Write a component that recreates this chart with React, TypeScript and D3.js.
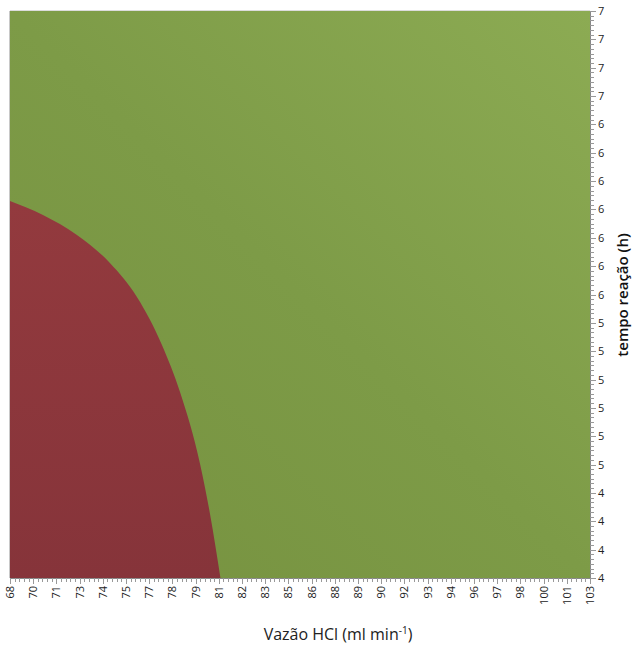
import React from "react";
import * as d3 from "d3";

// Axis tick labels (category axes, as displayed)
const xTickLabels = ["68", "70", "71", "73", "74", "75", "77", "78", "79", "81", "82", "83", "85", "86", "88", "89", "90", "92", "93", "94", "96", "97", "98", "100", "101", "103"];
const yTickLabels = ["4", "4", "4", "4", "5", "5", "5", "5", "5", "5", "6", "6", "6", "6", "6", "6", "6", "7", "7", "7", "7"];

// Data domain of the surface
const flowDomain = [68, 103];
const timeDomain = [4, 7];

// Contour separating the lower band (red) from the upper band (green)
const boundaryFlow = [68.0, 69.99, 72.04, 74.03, 75.66, 77.17, 78.26, 79.47, 80.07, 80.7];
const boundaryTime = [5.995, 5.921, 5.815, 5.667, 5.487, 5.233, 4.984, 4.603, 4.339, 4.0];

const W = 633;
const H = 646;
const left = 10;
const right = 590;
const top = 11;
const bottom = 578;

const xMinorPerMajor = 5;
const yMinorPerMajor = 6;

export default function App() {
  const x = d3.scaleLinear().domain(flowDomain).range([left, right]);
  const y = d3.scaleLinear().domain(timeDomain).range([bottom, top]);
  const xIdx = d3.scaleLinear().domain([0, xTickLabels.length - 1]).range([left, right]);
  const yIdx = d3.scaleLinear().domain([0, yTickLabels.length - 1]).range([bottom, top]);

  // red region: along the contour, then back along the bottom to the left edge
  const contour: [number, number][] = boundaryFlow.map((f, i) => [x(f), y(boundaryTime[i])]);
  const curve = d3.line().curve(d3.curveMonotoneX)(contour) as string;
  const redPath = `${curve}L${x(flowDomain[0])},${y(timeDomain[0])}Z`;

  const xMinor = d3.range(0, (xTickLabels.length - 1) * xMinorPerMajor + 1).map((i) => i / xMinorPerMajor);
  const yMinor = d3.range(0, (yTickLabels.length - 1) * yMinorPerMajor + 1).map((i) => i / yMinorPerMajor);

  const tickFont = "'Open Sans', 'Noto Sans', sans-serif";

  return (
    <svg width={W} height={H} style={{ position: "absolute", left: 0, top: 0, background: "#fff" }}>
      <defs>
        <linearGradient id="greenGrad" x1="1" y1="0" x2="0" y2="1">
          <stop offset="0" stopColor="#8cab53" />
          <stop offset="0.5" stopColor="#7d9b47" />
          <stop offset="1" stopColor="#76913f" />
        </linearGradient>
        <linearGradient id="redGrad" x1="0" y1="0" x2="0" y2="1">
          <stop offset="0" stopColor="#933a3e" />
          <stop offset="1" stopColor="#86343a" />
        </linearGradient>
        <clipPath id="plotClip">
          <rect x={left} y={top} width={right - left} height={bottom - top} />
        </clipPath>
      </defs>

      <rect x={left} y={top} width={right - left} height={bottom - top} fill="url(#greenGrad)" />
      <path d={redPath} fill="url(#redGrad)" clipPath="url(#plotClip)" />

      {/* frame */}
      <line x1={left - 0.5} x2={left - 0.5} y1={top} y2={bottom} stroke="#c8c8c8" />
      <line x1={left} x2={right} y1={top - 0.5} y2={top - 0.5} stroke="#dcdcdc" />

      {/* bottom axis */}
      <line x1={left} x2={right} y1={bottom + 0.5} y2={bottom + 0.5} stroke="#888" />
      {xMinor.map((v, i) => {
        const major = i % xMinorPerMajor === 0;
        const px = Math.round(xIdx(v)) + 0.5;
        return <line key={"xm" + i} x1={px} x2={px} y1={bottom} y2={bottom + (major ? 6 : 4)} stroke="#999" />;
      })}
      {xTickLabels.map((t, i) => (
        <text
          key={"xl" + i}
          transform={`translate(${xIdx(i) + 4},${bottom + 8}) rotate(-90)`}
          textAnchor="end"
          fontFamily={tickFont}
          fontSize={11}
          fill="#222"
        >
          {t}
        </text>
      ))}

      {/* right axis */}
      <line x1={right + 0.5} x2={right + 0.5} y1={top} y2={bottom} stroke="#888" />
      {yMinor.map((v, i) => {
        const major = i % yMinorPerMajor === 0;
        const py = Math.round(yIdx(v)) + 0.5;
        return <line key={"ym" + i} x1={right} x2={right + (major ? 6 : 4)} y1={py} y2={py} stroke="#999" />;
      })}
      {yTickLabels.map((t, i) => (
        <text key={"yl" + i} x={right + 8} y={yIdx(i) + 4} fontFamily={tickFont} fontSize={11} fill="#222">
          {t}
        </text>
      ))}

      {/* axis titles */}
      <text x={338} y={640} textAnchor="middle" fontFamily={tickFont} fontSize={16} fill="#222">
        Vazão HCl (ml min<tspan dy={-6} fontSize={10}>-1</tspan>
        <tspan dy={6}>)</tspan>
      </text>
      <text
        transform="translate(628,295) rotate(-90)"
        textAnchor="middle"
        fontFamily={tickFont}
        fontSize={15}
        fontWeight={600}
        fill="#111"
      >
        tempo reação (h)
      </text>
    </svg>
  );
}
